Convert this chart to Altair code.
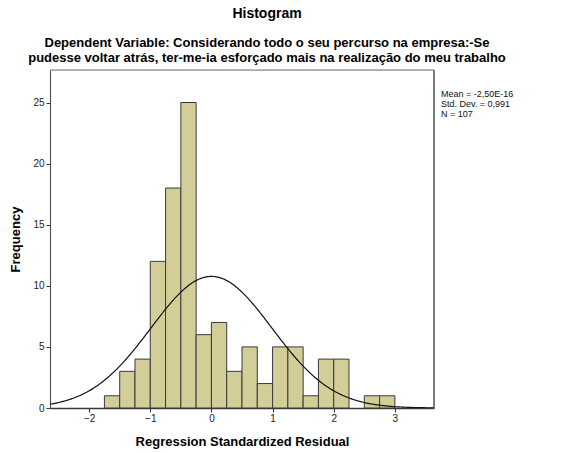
import altair as alt
import pandas as pd

bin_start = [-1.75, -1.5, -1.25, -1.0, -0.75, -0.5, -0.25, 0.0, 0.25, 0.5, 0.75, 1.0, 1.25, 1.5, 1.75, 2.0, 2.5, 2.75]
counts = [1, 3, 4, 12, 18, 25, 6, 7, 3, 5, 2, 5, 5, 1, 4, 4, 1, 1]
bin_width = 0.25
mean_val = -2.50e-16
std_val = 0.991
n_val = 107
legend_lines = ["Mean = -2,50E-16", "Std. Dev. = 0,991", "N = 107"]

x_domain = [-2.64, 3.64]
y_domain = [0, 27.66]

W, H = 384, 338

bars_df = pd.DataFrame({
    "start": bin_start,
    "end": [b + bin_width for b in bin_start],
    "count": counts,
})
legend_df = pd.DataFrame({"txt": ["\n".join(legend_lines)]})
one_df = pd.DataFrame({"k": [0]})

xscale = alt.Scale(domain=x_domain, nice=False, zero=False)
yscale = alt.Scale(domain=y_domain, nice=False)

xaxis = alt.Axis(title="Regression Standardized Residual", values=[-2, -1, 0, 1, 2, 3], format="d",
                 tickSize=4, tickColor="#333333", labelFontSize=10, labelColor="#222222",
                 labelFont="Liberation Sans", titleFont="Liberation Sans", titleFontSize=13,
                 titleFontWeight="bold", titleColor="#000000", titlePadding=12,
                 domain=True, domainColor="#3a3a3a", domainWidth=1.5, grid=False, labelPadding=1)
yaxis = alt.Axis(title="Frequency", values=[0, 5, 10, 15, 20, 25],
                 tickSize=4, tickColor="#333333", labelFontSize=10, labelColor="#222222",
                 labelFont="Liberation Sans", titleFont="Liberation Sans", titleFontSize=13,
                 titleFontWeight="bold", titleColor="#000000", titlePadding=10,
                 domain=True, domainColor="#555555", domainWidth=1.2, grid=False, labelPadding=2)

bars = alt.Chart(bars_df).mark_rect(fill="#D3CE97", stroke="#3a3a3a", strokeWidth=1).encode(
    x=alt.X("start:Q", scale=xscale, axis=xaxis),
    x2="end:Q",
    y=alt.Y("count:Q", scale=yscale, axis=yaxis),
    y2=alt.datum(0),
)

curve = alt.Chart(alt.sequence(-2.64, 3.66, 0.02, as_="r")).transform_calculate(
    f=f"{n_val}*{bin_width}/({std_val}*sqrt(2*PI))*exp(-0.5*pow((datum.r-({mean_val}))/{std_val},2))"
).mark_line(color="#111111", strokeWidth=1.2, clip=True).encode(
    x=alt.X("r:Q", scale=xscale),
    y=alt.Y("f:Q", scale=yscale),
)

top_border = alt.Chart(one_df).mark_rule(color="#777777", strokeWidth=1).encode(
    x=alt.value(0), x2=alt.value(W), y=alt.value(0)
)
right_border = alt.Chart(one_df).mark_rule(color="#555555", strokeWidth=1.5).encode(
    x=alt.value(W), y=alt.value(0), y2=alt.value(H)
)

legend = alt.Chart(legend_df).mark_text(
    align="left", baseline="top", fontSize=9, font="Liberation Sans", color="#111111",
    lineBreak="\n", lineHeight=10
).encode(
    x=alt.value(391),
    y=alt.value(20),
    text="txt:N",
)

chart = alt.layer(bars, curve, top_border, right_border, legend).properties(
    width=W,
    height=H,
    autosize=alt.AutoSizeParams(type="none"),
    padding={"left": 50, "top": 70, "right": 129, "bottom": 45},
    title=alt.TitleParams(
        text="Histogram",
        subtitle=["Dependent Variable: Considerando todo o seu percurso na empresa:-Se",
                  "pudesse voltar atrás, ter-me-ia esforçado mais na realização do meu trabalho"],
        anchor="middle", frame="group", dx=25, offset=4,
        font="Liberation Sans", fontSize=14, fontWeight="bold", color="#000000",
        subtitleFont="Liberation Sans", subtitleFontSize=13, subtitleFontWeight="bold",
        subtitleColor="#000000", subtitlePadding=16, subtitleLineHeight=15,
    ),
).configure_view(
    fill="#F0F0F0", stroke="#555555", strokeWidth=1
).configure(background="#FFFFFF")

chart.save("out.html", embed_options={"renderer": "svg", "actions": False})
